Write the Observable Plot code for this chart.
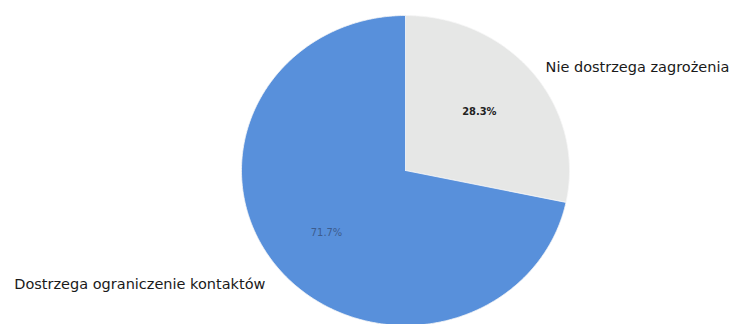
<!DOCTYPE html>
<html><head><meta charset="utf-8">
<script src="https://cdn.jsdelivr.net/npm/d3@7"></script>
<script src="https://cdn.jsdelivr.net/npm/@observablehq/plot@0.6"></script>
<style>body{margin:0;background:#fff;} #chart svg{display:block;}</style>
</head><body><div id="chart"></div>
<script>
const categories = ["Nie dostrzega zagrożenia", "Dostrzega ograniczenie kontaktów"];
const values = [28.3, 71.7];
const percentLabels = ["28.3%", "71.7%"];
const colors = ["#e6e7e6", "#5890db"];

const W = 732, H = 324, cx = 405, cy = 170, rx = 164, ry = 155;
const arcs = d3.pie().sort(null).value(d => d)(values);
const rows = [];
arcs.forEach((a, i) => {
  rows.push({key: categories[i], u: 0, v: 0});
  const n = Math.max(2, Math.ceil((a.endAngle - a.startAngle) / 0.01));
  for (let k = 0; k <= n; k++) {
    const t = a.startAngle + (a.endAngle - a.startAngle) * k / n;
    rows.push({key: categories[i], u: Math.sin(t), v: Math.cos(t)});
  }
  rows.push({key: categories[i], u: 0, v: 0});
});
const mids = arcs.map((a, i) => ({key: categories[i], pct: percentLabels[i], m: (a.startAngle + a.endAngle) / 2}));

const chart = Plot.plot({
  width: W, height: H,
  margin: 0,
  x: {domain: [-cx / rx, (W - cx) / rx], axis: null},
  y: {domain: [(cy - H) / ry, cy / ry], axis: null},
  color: {domain: categories, range: colors},
  style: {fontFamily: "DejaVu Sans, sans-serif", background: "#fff"},
  marks: [
    Plot.line(rows, {x: "u", y: "v", z: "key", fill: "key", stroke: "#f6f6f6", strokeWidth: 0.8, curve: "linear"}),
    Plot.text(mids, {filter: (d, i) => i === 0, x: d => 0.58 * Math.sin(d.m), y: d => 0.6 * Math.cos(d.m), text: "pct",
      fontSize: 11, fontWeight: "bold", fill: "#222", fontFamily: "DejaVu Sans Condensed, DejaVu Sans, sans-serif"}),
    Plot.text(mids, {filter: (d, i) => i === 1, x: d => 0.62 * Math.sin(d.m), y: d => 0.63 * Math.cos(d.m), text: "pct",
      fontSize: 11, fill: "#3d5c8e", fontFamily: "DejaVu Sans Condensed, DejaVu Sans, sans-serif"}),
    Plot.text(mids, {filter: (d, i) => i === 0, x: d => 1.1 * Math.sin(d.m), y: d => 1.06 * Math.cos(d.m), text: "key",
      textAnchor: "start", fontSize: 14.5, fill: "#1a1a1a"}),
    Plot.text(mids, {filter: (d, i) => i === 1, x: d => 1.1 * Math.sin(d.m), y: d => 1.17 * Math.cos(d.m), text: "key",
      textAnchor: "end", fontSize: 14.5, fill: "#1a1a1a"})
  ]
});
document.getElementById("chart").appendChild(chart);
</script>
</body></html>
